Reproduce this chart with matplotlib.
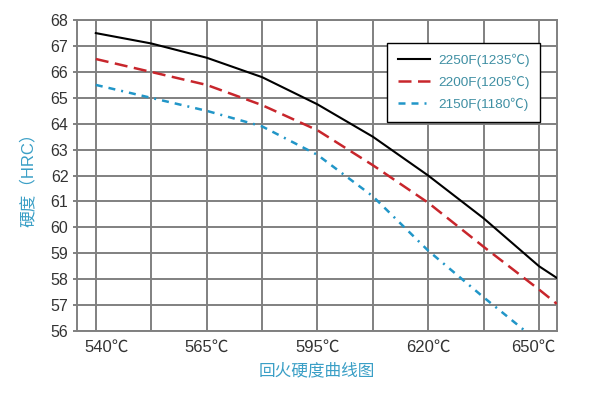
import matplotlib
matplotlib.use('Agg')
import matplotlib.pyplot as plt

plt.rcParams['font.family'] = ['Liberation Sans', 'Noto Sans CJK SC', 'DejaVu Sans']

# x positions are gridline indices (540C at 0 ... 650C at 8)
temp_labels = ['540℃', '565℃', '595℃', '620℃', '650℃']
label_pos = [0.2, 2, 4, 6, 7.9]
hrc_ticks = list(range(56, 69))

x_2250 = [0, 1, 2, 3, 4, 5, 6, 7, 8, 8.32]
hrc_2250 = [67.5, 67.1, 66.55, 65.8, 64.75, 63.5, 62.0, 60.35, 58.5, 58.05]
x_2200 = [0, 1, 2, 3, 4, 5, 6, 7, 8, 8.32]
hrc_2200 = [66.5, 66.0, 65.5, 64.72, 63.75, 62.4, 60.95, 59.25, 57.6, 57.05]
x_2150 = [0, 1, 2, 3, 4, 5, 6, 7, 7.75]
hrc_2150 = [65.5, 65.0, 64.5, 63.9, 62.8, 61.2, 59.1, 57.3, 56.0]

grid_gray = '#808080'
label_blue = '#3a9fc6'

fig = plt.figure(figsize=(6, 3.95), dpi=100)
ax = fig.add_axes([0.128, 0.162, 0.8, 0.787])

ax.plot(x_2250, hrc_2250, color='black', lw=1.5, label='2250F(1235℃)', zorder=3)
ax.plot(x_2200, hrc_2200, color='#c8262c', lw=1.8, ls=(0, (5.2, 2.6)),
        label='2200F(1205℃)', zorder=3)
ax.plot(x_2150, hrc_2150, color='#2196c8', lw=1.8,
        ls=(0, (2.8, 2.4, 2.8, 2.4, 0.8, 2.4)), label='2150F(1180℃)', zorder=3)

ax.set_xlim(-0.343, 8.32)
ax.set_ylim(56, 68)

ax.xaxis.remove_overlapping_locs = False
ax.set_xticks(range(9))
ax.set_xticklabels([])
ax.set_xticks(label_pos, minor=True)
ax.set_xticklabels(temp_labels, minor=True)
ax.tick_params(axis='x', which='both', length=0, pad=6, labelsize=12, labelcolor='#333333')

ax.set_yticks(hrc_ticks)
ax.tick_params(axis='y', length=3, width=1.4, color=grid_gray, pad=3,
               labelsize=11.5, labelcolor='#333333')

ax.grid(True, which='major', color=grid_gray, lw=1.4)
for s in ax.spines.values():
    s.set_color(grid_gray)
    s.set_linewidth(1.4)
ax.set_axisbelow(True)

ax.set_ylabel('硬度（HRC）', color=label_blue, fontsize=12, labelpad=11)
ax.set_xlabel('回火硬度曲线图', color=label_blue, fontsize=12, labelpad=6)

leg = ax.legend(loc='upper left', bbox_to_anchor=(0.646, 0.927), borderaxespad=0,
                frameon=True, fancybox=False, edgecolor='black', framealpha=1,
                fontsize=9.7, borderpad=0.8, labelspacing=0.65, handlelength=2.4,
                handletextpad=0.6)
leg.get_frame().set_linewidth(1.0)
for t in leg.get_texts():
    t.set_color('#3f8fa3')

fig.savefig('out.png', dpi=100)
